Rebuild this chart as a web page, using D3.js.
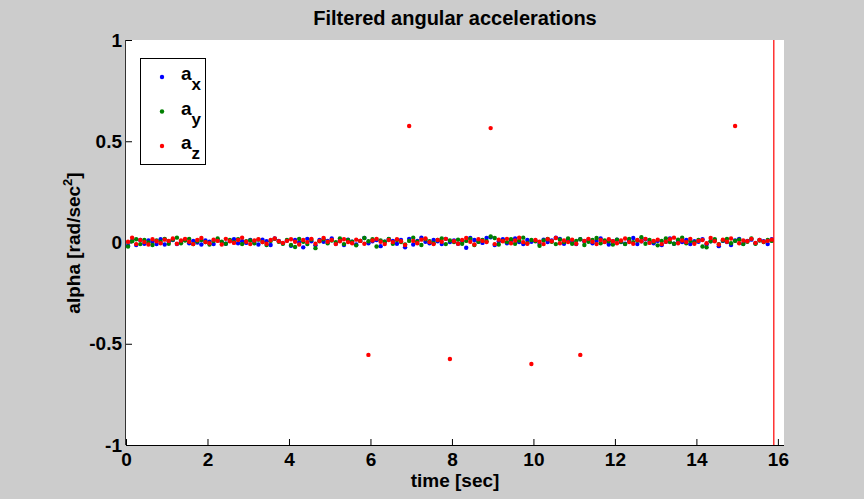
<!DOCTYPE html>
<html>
<head>
<meta charset="utf-8">
<script src="https://cdn.jsdelivr.net/npm/d3@7"></script>
<style>
  body { margin: 0; background: #cccccc; }
  text { font-family: Arial, "Liberation Sans", sans-serif; font-weight: bold; fill: #000; }
</style>
</head>
<body>
<div id="chart"></div>
<script>
// sample times: first sample and step (sec)
var tStart = 0.05, tStep = 0.1;
// marker line time
var markerTime = 15.9;

var ax = [
  -0.016, 0.008, -0.012, 0.012, -0.006, 0.010, 0.004, -0.008, 0.016, -0.010,
  0.006, 0.012, -0.008, 0.004, 0.014, -0.004, 0.008, 0.000, -0.010, 0.010,
  0.004, -0.008, 0.012, 0.002, -0.006, 0.008, 0.016, -0.004, 0.006, -0.002,
  0.012, 0.004, -0.010, 0.014, 0.006, -0.012, 0.020, 0.008, -0.004, 0.010,
  -0.016, 0.012, 0.002, -0.024, 0.018, 0.006, -0.014, 0.012, 0.004, 0.008,
  0.020, -0.006, 0.010, -0.012, 0.014, 0.004, -0.010, 0.008, 0.022, -0.004,
  0.006, 0.012, -0.018, 0.004, 0.016, 0.008, -0.006, 0.012, -0.024, 0.018,
  -0.010, 0.008, 0.024, 0.004, -0.004, 0.012, 0.006, -0.008, 0.018, 0.002,
  0.010, -0.006, 0.008, -0.026, 0.022, 0.012, 0.004, -0.002, 0.022, 0.026,
  -0.012, 0.006, 0.016, -0.004, 0.010, 0.020, 0.002, -0.008, 0.012, 0.004,
  0.008, -0.006, 0.014, 0.002, 0.010, 0.024, 0.018, -0.006, 0.012, 0.004,
  -0.008, 0.016, 0.006, 0.012, -0.004, 0.008, 0.020, 0.004, -0.010, 0.006,
  0.014, 0.002, -0.006, 0.010, 0.022, -0.008, 0.006, 0.016, 0.004, -0.004,
  0.008, -0.012, 0.004, 0.020, -0.006, 0.010, 0.002, 0.012, -0.008, 0.006,
  0.004, 0.016, -0.010, 0.006, 0.012, -0.018, 0.008, 0.002, -0.012, 0.010,
  0.018, -0.006, 0.008, 0.014, -0.004, 0.012, 0.006, -0.008, 0.016
];
var ay = [
  -0.020, 0.006, 0.016, -0.008, 0.012, 0.000, -0.012, 0.010, 0.004, 0.018,
  -0.006, 0.014, 0.024, -0.004, 0.010, 0.018, -0.008, 0.006, 0.012, 0.002,
  -0.010, 0.008, 0.020, 0.004, -0.006, 0.012, 0.002, 0.016, -0.008, 0.006,
  0.010, -0.004, 0.014, 0.002, -0.012, 0.008, 0.018, 0.004, -0.006, 0.012,
  -0.012, -0.022, 0.018, 0.004, -0.008, 0.014, -0.028, 0.006, 0.016, -0.004,
  0.010, 0.002, 0.020, -0.008, 0.012, 0.004, -0.014, 0.008, 0.022, 0.006,
  0.016, -0.020, 0.010, 0.004, 0.018, -0.006, 0.012, 0.002, -0.010, 0.008,
  0.024, 0.004, -0.012, 0.016, 0.006, -0.004, 0.012, 0.020, -0.008, 0.010,
  0.002, 0.014, -0.006, 0.008, 0.018, -0.012, 0.004, 0.012, 0.006, 0.030,
  0.022, -0.010, 0.008, 0.002, 0.016, -0.006, 0.010, 0.024, -0.004, 0.012,
  0.006, -0.016, 0.010, 0.018, 0.004, -0.008, 0.014, 0.002, 0.020, -0.006,
  0.008, 0.016, -0.012, 0.004, 0.012, 0.022, -0.004, 0.010, 0.006, -0.010,
  0.014, 0.004, -0.008, 0.018, 0.002, 0.010, 0.026, -0.006, 0.012, 0.004,
  -0.014, 0.008, 0.020, 0.002, -0.006, 0.014, 0.024, -0.004, 0.008, 0.000,
  0.012, -0.020, -0.024, 0.006, 0.016, -0.008, 0.010, 0.018, -0.004, 0.008,
  0.014, -0.008, 0.004, 0.020, -0.006, 0.010, 0.002, 0.012, 0.008
];
var az = [
  0.004, 0.024, -0.008, 0.012, 0.002, -0.010, 0.016, 0.006, -0.004, 0.014,
  0.008, 0.020, -0.006, 0.010, 0.018, 0.004, -0.008, 0.012, 0.022, 0.002,
  -0.004, 0.014, 0.008, -0.010, 0.018, 0.006, -0.002, 0.012, 0.024, 0.004,
  -0.008, 0.010, 0.016, 0.002, -0.006, 0.012, 0.020, 0.006, -0.002, 0.008,
  0.016, 0.004, -0.010, 0.012, 0.002, 0.018, -0.006, 0.008, 0.022, 0.004,
  0.012, -0.008, 0.006, 0.016, 0.002, -0.004, 0.014, 0.008, -0.006, -0.555,
  0.010, 0.018, 0.004, -0.008, 0.012, 0.002, 0.016, 0.006, -0.012, 0.575,
  0.008, -0.004, 0.014, 0.020, 0.002, -0.008, 0.012, 0.004, 0.018, -0.575,
  0.006, -0.006, 0.012, 0.022, 0.004, -0.010, 0.016, 0.008, 0.002, 0.565,
  -0.008, 0.014, 0.006, 0.018, -0.004, 0.010, 0.024, 0.002, -0.006, -0.600,
  0.012, 0.004, -0.008, 0.016, 0.006, 0.022, -0.004, 0.010, 0.002, 0.014,
  -0.006, -0.555, 0.008, 0.018, 0.004, -0.008, 0.012, 0.002, 0.016, 0.006,
  -0.004, 0.010, 0.020, 0.002, -0.006, 0.012, 0.006, 0.018, -0.002, 0.008,
  0.014, -0.008, 0.004, 0.016, 0.024, -0.004, 0.010, 0.002, 0.018, -0.006,
  0.008, 0.012, -0.004, 0.022, 0.006, -0.010, 0.014, 0.004, 0.020, 0.575,
  -0.004, 0.010, 0.006, 0.018, -0.002, 0.012, 0.004, 0.008, 0.014
];

var seriesNames = ["x", "y", "z"];
var seriesColors = ["#0000ff", "#008000", "#ff0000"];
var xTicks = [0, 2, 4, 6, 8, 10, 12, 14, 16];
var yTicks = [-1, -0.5, 0, 0.5, 1];

var W = 864, H = 499;
var plot = { left: 126, right: 784, top: 40, bottom: 445 };
var fontSize = "19px";

var svg = d3.select("#chart").append("svg")
  .attr("width", W).attr("height", H);

svg.append("rect").attr("width", W).attr("height", H).attr("fill", "#cccccc");
svg.append("rect")
  .attr("x", plot.left).attr("y", plot.top)
  .attr("width", plot.right - plot.left).attr("height", plot.bottom - plot.top)
  .attr("fill", "#ffffff");

var xScale = d3.scaleLinear().domain([0, 16.15]).range([plot.left, plot.right]);
var yScale = d3.scaleLinear().domain([-1, 1]).range([plot.bottom, plot.top]);

// axes (ticks pointing inward, box off)
var xAxis = d3.axisBottom(xScale).tickValues(xTicks).tickSize(-6).tickSizeOuter(0)
  .tickPadding(8).tickFormat(d3.format("d"));
var yAxis = d3.axisLeft(yScale).tickValues(yTicks).tickSize(-6).tickSizeOuter(0)
  .tickPadding(4).tickFormat(function(d) { return d === 0 ? "0" : String(d); });

var gx = svg.append("g").attr("transform", "translate(0," + plot.bottom + ")").call(xAxis);
var gy = svg.append("g").attr("transform", "translate(" + plot.left + ",0)").call(yAxis);
[gx, gy].forEach(function(g) {
  g.select(".domain").remove();
  g.selectAll(".tick line").attr("stroke", "#000");
  g.selectAll("text").style("font-size", fontSize).style("font-family", "Arial, 'Liberation Sans', sans-serif")
    .style("font-weight", "bold").attr("fill", "#000");
});
svg.append("line").attr("x1", plot.left).attr("x2", plot.right)
  .attr("y1", plot.bottom + 0.5).attr("y2", plot.bottom + 0.5).attr("stroke", "#000");
svg.append("line").attr("x1", plot.left - 0.5).attr("x2", plot.left - 0.5)
  .attr("y1", plot.top).attr("y2", plot.bottom).attr("stroke", "#333");

// data points
var allSeries = [ax, ay, az];
allSeries.forEach(function(vals, s) {
  svg.append("g").selectAll("circle")
    .data(vals)
    .enter()
    .append("circle")
    .attr("cx", function(d, i) { return xScale(tStart + i * tStep); })
    .attr("cy", function(d) { return yScale(d); })
    .attr("r", 2.2)
    .attr("fill", seriesColors[s]);
});

// red vertical marker
svg.append("line")
  .attr("x1", xScale(markerTime)).attr("x2", xScale(markerTime))
  .attr("y1", plot.top).attr("y2", plot.bottom)
  .attr("stroke", "#ff0000").attr("stroke-width", 1.2);

// title and labels
svg.append("text").attr("x", 455).attr("y", 25).attr("text-anchor", "middle")
  .style("font-size", "20px").text("Filtered angular accelerations");
svg.append("text").attr("x", 455).attr("y", 487).attr("text-anchor", "middle")
  .style("font-size", fontSize).text("time [sec]");
var yl = svg.append("text").attr("transform", "translate(80,243) rotate(-90)")
  .attr("text-anchor", "middle").style("font-size", fontSize);
yl.append("tspan").text("alpha [rad/sec");
yl.append("tspan").attr("dy", -8).style("font-size", "13px").text("2");
yl.append("tspan").attr("dy", 8).text("]");

// legend
var legend = svg.append("g");
legend.append("rect").attr("x", 140.5).attr("y", 58.5).attr("width", 65).attr("height", 106)
  .attr("fill", "#fff").attr("stroke", "#000").attr("stroke-width", 1);
seriesNames.forEach(function(name, i) {
  var y0 = 77 + i * 34.5;
  legend.append("circle").attr("cx", 162).attr("cy", y0).attr("r", 2.2).attr("fill", seriesColors[i]);
  var t = legend.append("text").attr("x", 181).attr("y", y0 + 3).style("font-size", fontSize);
  t.append("tspan").text("a");
  t.append("tspan").attr("dy", 10).style("font-size", "17px").text(name);
});
</script>
</body>
</html>
